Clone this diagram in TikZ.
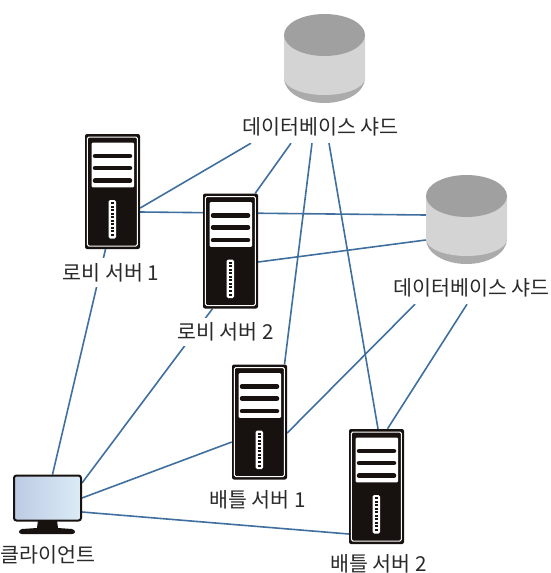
\documentclass[tikz,border=0pt]{standalone}
\usepackage{fontspec}
\setmainfont{Noto Sans CJK KR}
\usetikzlibrary{calc,backgrounds}
\definecolor{linkblue}{HTML}{3F6F9F}
\definecolor{dbdark}{HTML}{A0A0A0}
\definecolor{dbbottom}{HTML}{ABABAB}
\definecolor{dblight}{HTML}{D4D4D4}
\definecolor{labelink}{HTML}{2A2A2A}
\definecolor{screenl}{HTML}{BCCBE3}
\definecolor{screenr}{HTML}{DCEBF6}
\definecolor{hwblack}{HTML}{17120F}
\tikzset{
  link/.style={draw=linkblue,line width=1.6pt},
  serverbox/.style={rectangle,fill=hwblack,rounded corners=2pt,inner sep=0pt,minimum width=55pt,minimum height=115pt},
  dbbox/.style={rectangle,inner sep=0pt,minimum width=81pt,minimum height=89pt},
  screenbox/.style={rectangle,draw=hwblack,line width=2pt,rounded corners=2.5pt,left color=screenl,right color=screenr,inner sep=0pt,minimum width=67pt,minimum height=45pt},
  lbl/.style={fill=white,text=labelink,font=\fontsize{20.6pt}{22pt}\selectfont,inner sep=0pt},
  server/.pic={
    \draw[white,line width=1pt,rounded corners=1.5pt] (-25.2,-54.5) rectangle (24.8,54.5);
    \fill[white,rounded corners=1pt] (-20.8,-48.8) rectangle (21.5,-4.2);
    \foreach \yy in {-35.5,-23.5,-10.8}
      \draw[hwblack,line width=4.5pt,line cap=round] (-17.5,\yy) -- (17.5,\yy);
    \fill[white,rounded corners=1.5pt] (-3.8,8.5) rectangle (3.5,47);
    \foreach \yy in {11.5,15,18.5,22,25.5,29,32.5,36,39.5,43.5}
      \fill[hwblack] (-1.8,\yy-1) rectangle (1.6,\yy+1);
  },
  cylinder art/.pic={
    \fill[dbbottom] (-40.5,9) .. controls (-40.5,22.8) and (-22.4,34) .. (0,34) .. controls (22.4,34) and (40.5,22.8) .. (40.5,9) -- cycle;
    \fill[dblight] (-40.5,-34) -- (-40.5,9) .. controls (-40.5,18.4) and (-22.4,26) .. (0,26) .. controls (22.4,26) and (40.5,18.4) .. (40.5,9) -- (40.5,-34) -- cycle;
    \fill[dbdark] (0,-34) ellipse [x radius=40.5pt,y radius=21pt];
  },
}
\begin{document}
\begin{tikzpicture}[x=1pt,y=-1pt]
\useasboundingbox (0,0) rectangle (551,573);
% database cylinders
\node[dbbox] (db1) at (324.5,69) {};
\pic at (db1) {cylinder art};
\node[dbbox] (db2) at (466.5,230) {};
\pic at (db2) {cylinder art};
% servers
\node[serverbox] (lobby1) at (112.5,191.5) {};
\pic at (lobby1) {server};
\node[serverbox] (lobby2) at (230.5,251) {};
\pic at (lobby2) {server};
\node[serverbox] (battle1) at (259.5,422) {};
\pic at (battle1) {server};
\node[serverbox] (battle2) at (376.5,486.5) {};
\pic at (battle2) {server};
% client
\fill[hwblack] (38,520) -- (57,520) -- (58,528) -- (72,529) .. controls (76,530) and (76,534) .. (72,534) -- (22,534) .. controls (18,534) and (18,530) .. (22,529) -- (37,528) -- cycle;
\node[screenbox] (client) at (47.5,498) {};
% labels
\node[lbl,minimum height=32pt] (dbl1) at (320.5,127) {데이터베이스 샤드};
\node[lbl,minimum height=32pt] (dbl2) at (471.5,288) {데이터베이스 샤드};
\node[lbl,minimum height=29pt] (lobbyl1) at (111,272.5) {로비 서버 1};
\node[lbl,minimum height=28pt] (lobbyl2) at (225.5,332) {로비 서버 2};
\node[lbl,minimum height=20pt] (battlel1) at (257.5,500) {배틀 서버 1};
\node[lbl,minimum height=20pt] (battlel2) at (378.5,564) {배틀 서버 2};
\node[lbl,minimum height=20pt] (clientl) at (48,554.5) {클라이언트};
% connectors
\begin{scope}[on background layer]
\draw[link] ($(dbl1.south)+(-69.5,0)$) -- ($(lobby1.east)+(0,16.5)$);
\draw[link] ($(lobby1.east)+(0,20.5)$) -- ($(db2.west)+(0,-15)$);
\draw[link] ($(dbl1.south)+(-29.5,0)$) -- ($(lobby2.north east)+(-3,0)$);
\draw[link] ($(lobby2.east)+(0,11)$) -- ($(db2.west)+(0,10)$);
\draw[link] ($(dbl1.south)+(-8.5,0)$) -- ($(battle1.north)+(25,0)$);
\draw[link] ($(dbl1.south)+(8.5,0)$) -- ($(battle2.north)+(1.5,0)$);
\draw[link] ($(battle2.north)+(11,0)$) -- ($(dbl2.south)+(-4.5,0)$);
\draw[link] ($(client.north)+(5,0)$) -- ($(lobby1.south)+(-7,0)$);
\draw[link] ($(client.east)+(0,-15)$) -- ($(lobby2.south)+(-18,0)$);
\draw[link] (client.east) -- ($(battle1.west)+(0,20)$);
\draw[link] ($(battle1.east)+(0,11)$) -- ($(dbl2.south)+(-56.5,0)$);
\draw[link] ($(client.east)+(0,14)$) -- ($(battle2.west)+(0,47.5)$);
\end{scope}
\end{tikzpicture}
\end{document}
